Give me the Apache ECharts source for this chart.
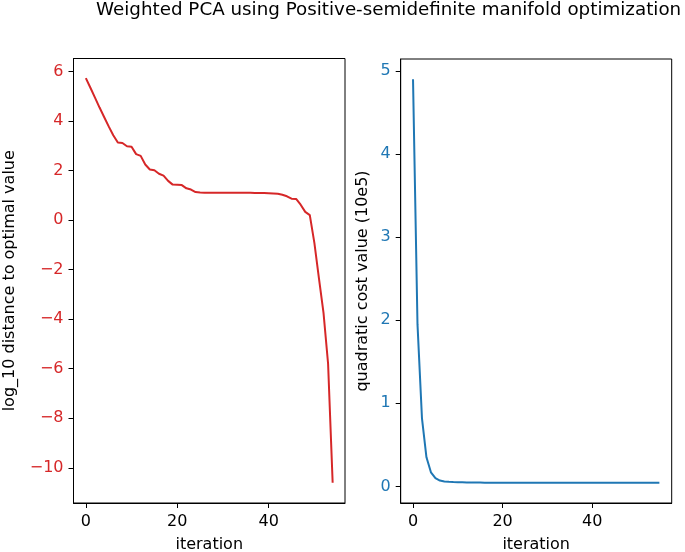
<!DOCTYPE html>
<html>
<head>
<meta charset="utf-8">
<script src="https://cdn.jsdelivr.net/npm/echarts@6/dist/echarts.min.js"></script>
<style>html,body{margin:0;padding:0;background:#fff}#c{width:685px;height:552px}</style>
</head>
<body>
<div id="c"></div>
<script>
var titleText = 'Weighted PCA using Positive-semidefinite manifold optimization';
var leftYName = 'log_10 distance to optimal value';
var rightYName = 'quadratic cost value (10e5)';
var xName = 'iteration';

var leftIter = [];
for (var i = 0; i <= 54; i++) leftIter.push(i);
var leftValues = [5.73, 5.34, 4.94, 4.54, 4.16, 3.78, 3.42, 3.13, 3.11, 2.98, 2.96, 2.66, 2.59, 2.24, 2.04, 2.01, 1.87, 1.79, 1.58, 1.43, 1.42, 1.41, 1.28, 1.23, 1.13,
  1.11, 1.10, 1.10, 1.10, 1.10, 1.10, 1.10, 1.10, 1.10, 1.10, 1.10, 1.10, 1.09, 1.09, 1.09, 1.08, 1.07, 1.06,
  1.02, 0.96, 0.86, 0.85, 0.62, 0.33, 0.20, -0.92, -2.35, -3.75, -5.8, -10.6];

var rightIter = [];
for (var j = 0; j <= 55; j++) rightIter.push(j);
var rightValues = [4.9, 1.95, 0.82, 0.35, 0.17, 0.10, 0.07, 0.06, 0.055, 0.052, 0.05, 0.049, 0.048, 0.047, 0.046, 0.046, 0.045, 0.045, 0.045, 0.045,
  0.045, 0.045, 0.045, 0.045, 0.045, 0.045, 0.045, 0.045, 0.045, 0.045, 0.045, 0.045, 0.045, 0.045, 0.045, 0.045, 0.045, 0.045, 0.045, 0.045,
  0.045, 0.045, 0.045, 0.045, 0.045, 0.045, 0.045, 0.045, 0.045, 0.045, 0.045, 0.045, 0.045, 0.045, 0.045, 0.045];

var xTicks = [0, 20, 40];
var leftYTicks = [-10, -8, -6, -4, -2, 0, 2, 4, 6];
var rightYTicks = [0, 1, 2, 3, 4, 5];

var FONT = 'DejaVu Sans';
var FS = 16;
var RED = '#d62728', BLUE = '#1f77b4';
function minus(v) { return String(v).replace('-', '\u2212'); }
function pairs(xs, ys) { return xs.map(function (x, k) { return [x, ys[k]]; }); }

function xAxisCfg(gi, min, max) {
  return {
    type: 'value', gridIndex: gi, min: min, max: max,
    name: xName, nameLocation: 'middle', nameGap: 34,
    nameTextStyle: { fontFamily: FONT, fontSize: FS, color: '#000' },
    axisLine: { show: true, onZero: false, lineStyle: { color: '#000', width: 1 } },
    axisTick: { show: true, length: 5, customValues: xTicks, lineStyle: { color: '#000' } },
    axisLabel: { customValues: xTicks, margin: 11, fontFamily: FONT, fontSize: FS, color: '#000', formatter: minus },
    splitLine: { show: false }
  };
}
function yAxisCfg(gi, min, max, ticks, color, name, gap) {
  return {
    type: 'value', gridIndex: gi, min: min, max: max,
    name: name, nameLocation: 'middle', nameGap: gap,
    nameTextStyle: { fontFamily: FONT, fontSize: FS, color: '#000' },
    axisLine: { show: true, onZero: false, lineStyle: { color: '#000', width: 1 } },
    axisTick: { show: true, length: 5, customValues: ticks, lineStyle: { color: '#000' } },
    axisLabel: { customValues: ticks, margin: 10, fontFamily: FONT, fontSize: FS, color: color, formatter: minus },
    splitLine: { show: false }
  };
}

var chart = echarts.init(document.getElementById('c'), null, { renderer: 'canvas' });
chart.setOption({
  animation: false,
  backgroundColor: '#fff',
  title: {
    text: titleText, left: 96, top: 1, padding: 0,
    textStyle: { fontFamily: FONT, fontSize: 18.3, fontWeight: 'normal', color: '#000' }
  },
  grid: [
    { left: 73.5, top: 58.5, width: 271.5, height: 444.5, show: true, borderColor: '#000', borderWidth: 1, backgroundColor: 'transparent', containLabel: false, outerBoundsMode: 'none' },
    { left: 400.7, top: 59, width: 271, height: 444, show: true, borderColor: '#000', borderWidth: 1, backgroundColor: 'transparent', containLabel: false, outerBoundsMode: 'none' }
  ],
  xAxis: [xAxisCfg(0, -2.7, 56.7), xAxisCfg(1, -2.75, 57.75)],
  yAxis: [
    yAxisCfg(0, -11.42, 6.52, leftYTicks, RED, leftYName, 56),
    yAxisCfg(1, -0.2, 5.145, rightYTicks, BLUE, rightYName, 30)
  ],
  series: [
    { type: 'line', xAxisIndex: 0, yAxisIndex: 0, data: pairs(leftIter, leftValues), showSymbol: false, lineStyle: { color: RED, width: 2 }, itemStyle: { color: RED } },
    { type: 'line', xAxisIndex: 1, yAxisIndex: 1, data: pairs(rightIter, rightValues), showSymbol: false, lineStyle: { color: BLUE, width: 2 }, itemStyle: { color: BLUE } }
  ]
});
</script>
</body>
</html>
